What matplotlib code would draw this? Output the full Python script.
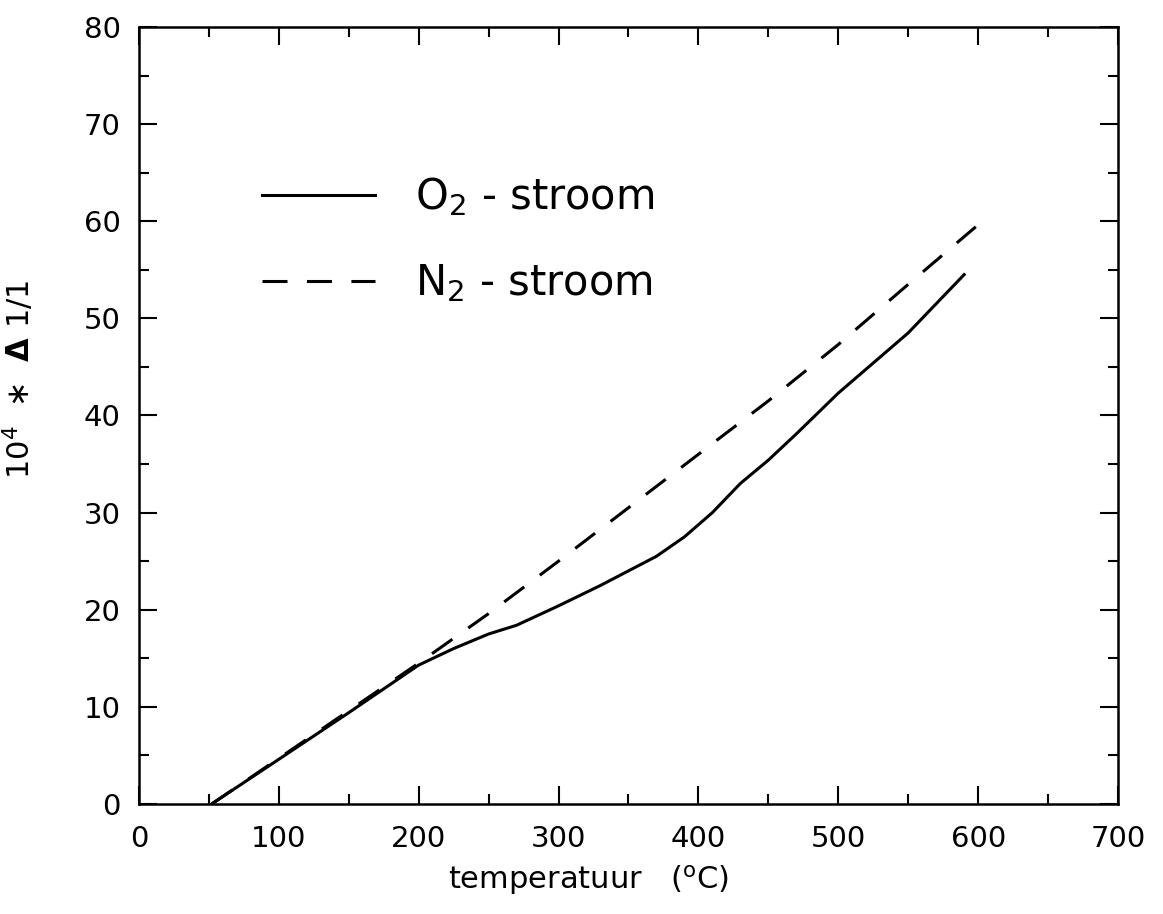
import matplotlib.pyplot as plt
from matplotlib.ticker import MultipleLocator

plt.rcParams['font.family'] = ['DejaVu Sans']
plt.rcParams['mathtext.fontset'] = 'dejavusans'
plt.rcParams['lines.scale_dashes'] = False

# thermal expansion vs temperature, read as 10^4 * dl/l
temp_o2 = [52, 100, 150, 200, 225, 250, 270, 300, 330, 350, 370, 390, 410, 430, 450, 470, 500, 550, 590]
dl_o2 = [0, 4.6, 9.4, 14.3, 16.0, 17.5, 18.4, 20.4, 22.5, 24.0, 25.5, 27.5, 30.0, 33.0, 35.4, 38.1, 42.3, 48.5, 54.5]

temp_n2 = [52, 100, 150, 200, 250, 300, 350, 400, 450, 500, 550, 603]
dl_n2 = [0, 4.7, 9.6, 14.5, 19.6, 25.0, 30.5, 36.0, 41.5, 47.3, 53.5, 60.0]

labels = ['O$_2$ - stroom', 'N$_2$ - stroom']

fig = plt.figure(figsize=(11.63, 9.14), dpi=100)
ax = fig.add_axes([0.1195, 0.1204, 0.8418, 0.8501])

ax.plot(temp_o2, dl_o2, color='black', lw=2.2, label=labels[0])
ax.plot(temp_n2, dl_n2, color='black', lw=2.2, dashes=(18, 14), label=labels[1])

ax.set_xlim(0, 700)
ax.set_ylim(0, 80)
ax.xaxis.set_major_locator(MultipleLocator(100))
ax.xaxis.set_minor_locator(MultipleLocator(50))
ax.yaxis.set_major_locator(MultipleLocator(10))
ax.yaxis.set_minor_locator(MultipleLocator(5))

ax.tick_params(which='both', direction='in', top=True, right=True, width=1.5,
               labelsize=21)
ax.tick_params(which='major', length=13)
ax.tick_params(which='minor', length=7)
ax.tick_params(axis='x', pad=15)
ax.tick_params(axis='y', pad=13)
for sp in ax.spines.values():
    sp.set_linewidth(1.8)

ax.set_xlabel('temperatuur   ($^{\\rm o}$C)', fontsize=22)
ax.xaxis.set_label_coords(0.459, -0.076)
ax.set_ylabel('10$^4$  $\\ast$  $\\mathbf{\\Delta}$ 1/1', fontsize=22)
ax.yaxis.set_label_coords(-0.105, 0.546)

ax.legend(loc='center left', bbox_to_anchor=(0.126, 0.726), frameon=False,
          fontsize=30, handlelength=2.7, handletextpad=0.96, labelspacing=1.05,
          borderpad=0, borderaxespad=0)

fig.savefig('out.png', dpi=100)
